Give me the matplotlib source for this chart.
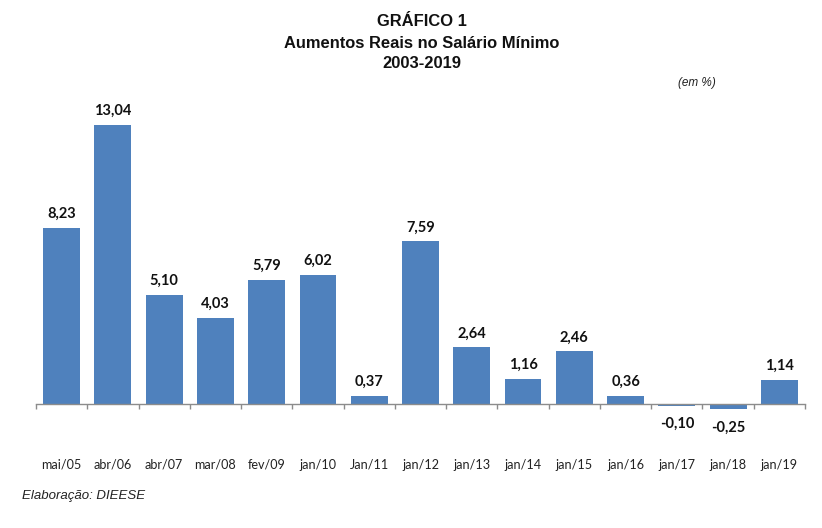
import matplotlib
matplotlib.use("Agg")
import matplotlib.pyplot as plt
import numpy as np

categories = ["mai/05", "abr/06", "abr/07", "mar/08", "fev/09", "jan/10", "Jan/11", "jan/12",
              "jan/13", "jan/14", "jan/15", "jan/16", "jan/17", "jan/18", "jan/19"]
values = [8.23, 13.04, 5.10, 4.03, 5.79, 6.02, 0.37, 7.59, 2.64, 1.16, 2.46, 0.36, -0.10, -0.25, 1.14]
value_labels = ["8,23", "13,04", "5,10", "4,03", "5,79", "6,02", "0,37", "7,59", "2,64", "1,16",
                "2,46", "0,36", "-0,10", "-0,25", "1,14"]

W, H = 822, 528
fig = plt.figure(figsize=(W / 100, H / 100), dpi=100)
ax_left, ax_right = 36, 805
ax_top, ax_bot = 100, 420
ax = fig.add_axes([ax_left / W, (H - ax_bot) / H, (ax_right - ax_left) / W, (ax_bot - ax_top) / H])

x = np.arange(len(categories))
ax.bar(x, values, width=0.72, color="#4F81BD", zorder=2)
ax.set_xlim(-0.5, len(categories) - 0.5)
ax.set_ylim(-0.75, 14.2)

for s in ["top", "right", "left"]:
    ax.spines[s].set_visible(False)
ax.spines["bottom"].set_position(("data", 0))
ax.spines["bottom"].set_color("#8c8c8c")
ax.spines["bottom"].set_linewidth(1.0)
ax.set_yticks([])

ax.set_xticks(x)
ax.set_xticklabels(categories, fontname="Lato", fontsize=9.1, color="#222222")
ax.tick_params(axis="x", which="major", length=0, pad=39.5)
ax.set_xticks(np.arange(-0.5, len(categories), 1.0), minor=True)
ax.tick_params(axis="x", which="minor", length=3.5, color="#8c8c8c", width=1.0, direction="out")

for xi, v, lab in zip(x, values, value_labels):
    if v >= 0:
        ax.annotate(lab, (xi, v), xytext=(0, 5), textcoords="offset points",
                    ha="center", va="bottom", fontname="Lato", fontweight="bold", fontsize=10.5,
                    color="#111111")
    else:
        ax.annotate(lab, (xi, v), xytext=(0, -8), textcoords="offset points",
                    ha="center", va="top", fontname="Lato", fontweight="bold", fontsize=10.5,
                    color="#111111")

title_kw = dict(ha="center", va="center", fontname="Liberation Sans", fontweight="bold",
                fontsize=11.9, color="#111111")
fig.text(422 / W, 1 - 22 / H, "GRÁFICO 1", **title_kw)
fig.text(422 / W, 1 - 43 / H, "Aumentos Reais no Salário Mínimo", **title_kw)
fig.text(422 / W, 1 - 64 / H, "2003-2019", **title_kw)
fig.text(697 / W, 1 - 83 / H, "(em %)", ha="center", va="center", fontname="Liberation Sans",
         style="italic", fontsize=8.5, color="#222222")
fig.text(22 / W, 1 - 496 / H, "Elaboração: DIEESE", ha="left", va="center",
         fontname="Liberation Sans", style="italic", fontsize=9.5, color="#222222")

fig.savefig("out.png", dpi=100)
